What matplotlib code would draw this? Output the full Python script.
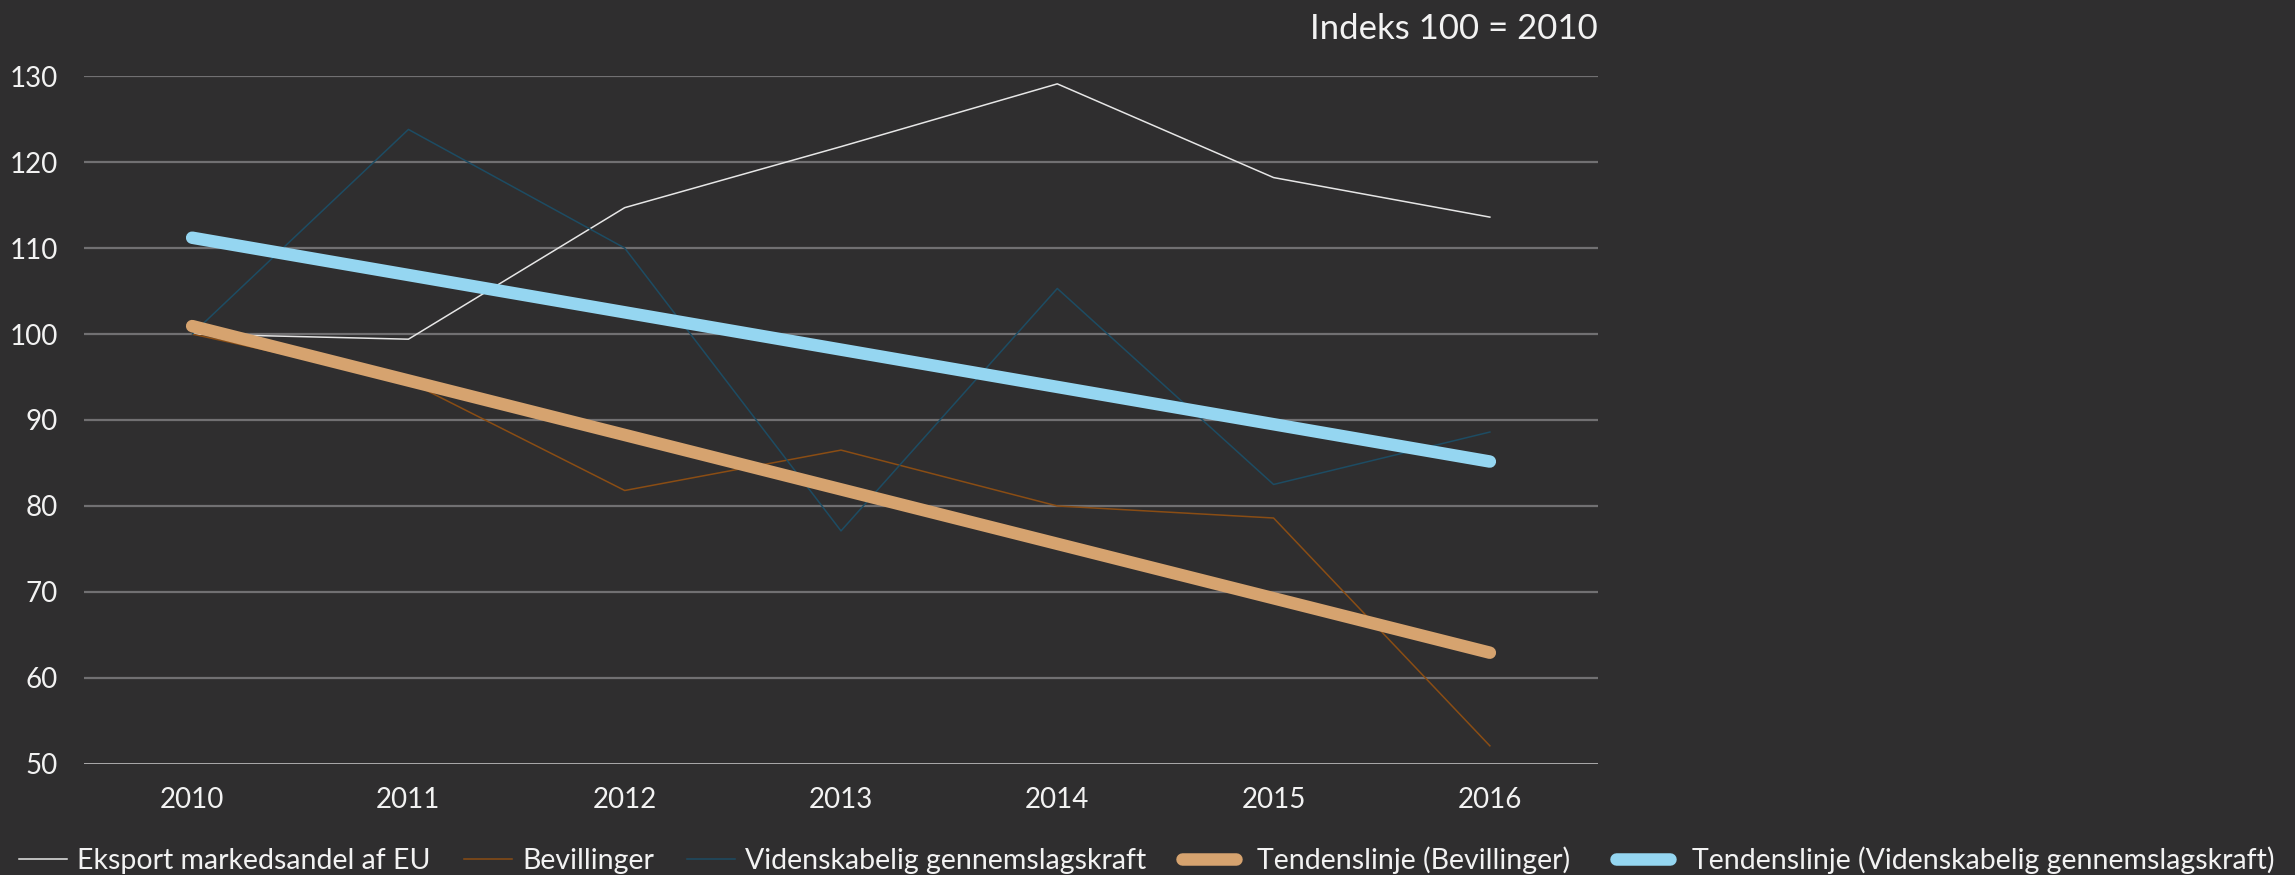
import numpy as np
import matplotlib
matplotlib.use('Agg')
import matplotlib.pyplot as plt

# Data (index 100 = 2010)
years = ['2010', '2011', '2012', '2013', '2014', '2015', '2016']
eksport = [100.0, 99.4, 114.7, 121.8, 129.1, 118.2, 113.6]
bevillinger = [100.0, 94.5, 81.8, 86.5, 80.0, 78.6, 52.1]
videnskab = [100.0, 123.8, 110.0, 77.1, 105.3, 82.5, 88.6]
yticks = [50, 60, 70, 80, 90, 100, 110, 120, 130]

bg = '#2f2e2f'
txt = '#f2f2f2'
plt.rcParams['font.family'] = ['Lato', 'DejaVu Sans']

x = np.arange(len(years))
# linear trend lines (as in the spreadsheet)
tb = np.polyval(np.polyfit(x, bevillinger, 1), x)
tv = np.polyval(np.polyfit(x, videnskab, 1), x)

fig = plt.figure(figsize=(22.95, 8.75), dpi=100, facecolor=bg)
ax = fig.add_axes([0.0366, 0.127, 0.6597, 0.786])
ax.set_facecolor(bg)

# gridlines
for v in yticks[1:]:
    ax.axhline(v, color='#717072', linewidth=1.6, zorder=1)
ax.axhline(50, color='#cfcfcf', linewidth=1.8, zorder=1)

ax.plot(x, eksport, color='#e6e6e6', linewidth=1.1, zorder=3, label='Eksport markedsandel af EU')
ax.plot(x, bevillinger, color='#8a4d14', linewidth=1.1, zorder=3, label='Bevillinger')
ax.plot(x, videnskab, color='#1d4c63', linewidth=1.1, zorder=3, label='Videnskabelig gennemslagskraft')
ax.plot(x, tb, color='#d6a36f', linewidth=9, solid_capstyle='round', zorder=4,
        label='Tendenslinje (Bevillinger)')
ax.plot(x, tv, color='#95d6f1', linewidth=9, solid_capstyle='round', zorder=4,
        label='Tendenslinje (Videnskabelig gennemslagskraft)')

ax.set_xlim(-0.5, len(years) - 0.5)
ax.set_ylim(50, 130)
ax.set_xticks(x)
ax.set_xticklabels(years)
ax.set_yticks(yticks)
ax.tick_params(axis='both', length=0, colors=txt, labelsize=20)
ax.tick_params(axis='x', pad=17)
ax.tick_params(axis='y', pad=19)
for s in ax.spines.values():
    s.set_visible(False)

ax.text(1.0, 1.045, 'Indeks 100 = 2010', transform=ax.transAxes, ha='right', va='bottom',
        fontsize=25, color=txt)

handles, labels = ax.get_legend_handles_labels()
# thin series and trend lines are spaced differently, so two legends
leg1 = fig.legend(handles[:3], labels[:3], loc='center left', bbox_to_anchor=(0.0083, 0.0165),
                  ncol=3, frameon=False, fontsize=20.5, handlelength=1.7, handletextpad=0.35,
                  columnspacing=1.15, borderaxespad=0, borderpad=0)
leg2 = fig.legend(handles[3:], labels[3:], loc='center left', bbox_to_anchor=(0.515, 0.0165),
                  ncol=2, frameon=False, fontsize=20.5, handlelength=1.9, handletextpad=0.75,
                  columnspacing=1.6, borderaxespad=0, borderpad=0)
for leg in (leg1, leg2):
    for t in leg.get_texts():
        t.set_color(txt)

fig.savefig('out.png', dpi=100, facecolor=bg)
